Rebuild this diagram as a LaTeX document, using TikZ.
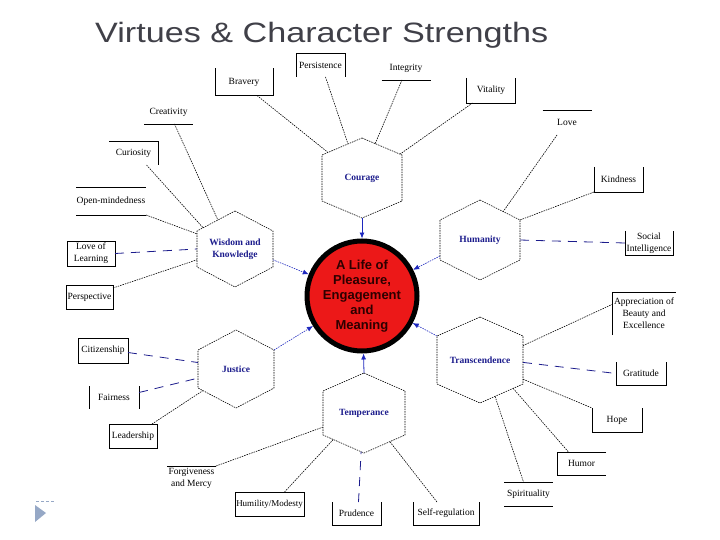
\documentclass[tikz,border=0pt]{standalone}
\usepackage{fontspec}
\setmainfont{Liberation Serif}
\newfontfamily\headfont{Liberation Sans}
\usetikzlibrary{arrows.meta, calc}
\definecolor{virtueblue}{RGB}{28, 28, 140}
\definecolor{feedblue}{RGB}{30, 40, 190}
\definecolor{lifered}{RGB}{236, 24, 24}
\definecolor{lifetext}{RGB}{45, 0, 0}
\definecolor{titlegray}{RGB}{64, 64, 72}
\definecolor{slidegray}{RGB}{150, 168, 198}

\tikzset{
  strength/.style={font=\fontsize{9.5}{12}\selectfont, align=center, inner sep=0pt, outer sep=0pt, minimum width=49pt, minimum height=24pt},
  framed/.style={strength, draw, line width=0.8pt},
  side/.style={line width=0.8pt},
  virtue/.style={inner sep=0pt, outer sep=0pt, align=center, text=virtueblue, font=\fontsize{9.5}{12}\selectfont\bfseries},
  hexline/.style={line width=0.6pt, dash pattern=on 1.5pt off 1pt},
  link/.style={line width=0.6pt, dash pattern=on 1.5pt off 1pt},
  bluelink/.style={line width=0.8pt, virtueblue, dash pattern=on 9pt off 7pt},
  feed/.style={feedblue, line width=0.6pt, dash pattern=on 1.5pt off 1pt, -{Latex[length=6pt, width=5pt]}},
  feedsolid/.style={feedblue, line width=0.8pt, -{Latex[length=6pt, width=5pt]}},
}

% hexagon round a virtue node: name, slant
\newcommand{\hexframe}[2]{%
  \coordinate (#1-n) at (#1.north);
  \coordinate (#1-ne) at ([yshift=-#2pt]#1.north east);
  \coordinate (#1-se) at ([yshift=#2pt]#1.south east);
  \coordinate (#1-s) at (#1.south);
  \coordinate (#1-sw) at ([yshift=#2pt]#1.south west);
  \coordinate (#1-nw) at ([yshift=-#2pt]#1.north west);
  \draw[hexline] (#1-n) -- (#1-ne) -- (#1-se) -- (#1-s) -- (#1-sw) -- (#1-nw) -- cycle;}

\begin{document}
\begin{tikzpicture}[x=1pt, y=-1pt]
  \useasboundingbox (0,0) rectangle (720,540);

  % title
  \node[anchor=base west, inner sep=0pt, text=titlegray, font=\headfont\fontsize{28}{30}\selectfont] (title) at (95,43) {\scalebox{1.22}[1]{Virtues \& Character Strengths}};

  % centre
  \node[circle, draw=black, line width=5pt, fill=lifered, minimum size=110pt, inner sep=0pt, align=center, text=lifetext, font=\headfont\bfseries\fontsize{13}{15}\selectfont] (life) at (362,296) {A Life of\\Pleasure,\\Engagement\\and\\Meaning};

  % virtues
  \node[virtue, minimum width=80pt, minimum height=80pt] (courage) at (362,178) {Courage};
  \node[virtue, minimum width=76pt, minimum height=76pt] (wisdom) at (235,249) {Wisdom and\\Knowledge};
  \node[virtue, minimum width=80pt, minimum height=80pt] (humanity) at (480,240) {Humanity};
  \node[virtue, minimum width=76pt, minimum height=78pt] (justice) at (236,369) {Justice};
  \node[virtue, minimum width=86pt, minimum height=86pt] (transcendence) at (480,360) {Transcendence};
  \node[virtue, minimum width=82pt, minimum height=80pt] (temperance) at (364,413) {Temperance};
  \hexframe{courage}{17}
  \hexframe{wisdom}{20}
  \hexframe{humanity}{20}
  \hexframe{justice}{20}
  \hexframe{transcendence}{19}
  \hexframe{temperance}{18}

  % strengths
  \node[strength, minimum width=58pt, minimum height=27pt] (bravery) at (244,82) {Bravery};
  \node[strength] (persistence) at (320.5,65) {Persistence};
  \node[strength] (integrity) at (406,68) {Integrity};
  \node[strength, minimum height=25pt] (vitality) at (491,90.5) {Vitality};
  \node[strength] (creativity) at (168.5,112) {Creativity};
  \node[strength] (curiosity) at (133.5,153) {Curiosity};
  \node[strength, minimum width=70pt, minimum height=28pt] (openmind) at (111,201) {Open-mindedness};
  \node[framed, minimum width=48pt, minimum height=25pt] (learning) at (91,253.5) {Love of\\Learning};
  \node[framed, minimum width=47pt] (perspective) at (89.5,297) {Perspective};
  \node[strength, minimum height=25pt] (love) at (567,122.5) {Love};
  \node[strength, minimum height=25pt] (kindness) at (618.5,179.5) {Kindness};
  \node[strength, minimum width=48pt] (social) at (649,243) {Social\\Intelligence};
  \node[strength, minimum width=64pt, minimum height=43pt] (beauty) at (644,313.5) {Appreciation of\\Beauty and\\Excellence};
  \node[framed, minimum width=50pt, minimum height=25pt] (citizenship) at (103,350.5) {Citizenship};
  \node[strength, minimum width=50pt, minimum height=23pt] (fairness) at (114,397.5) {Fairness};
  \node[framed, minimum width=48pt] (leadership) at (133,436) {Leadership};
  \node[strength, minimum width=50pt, minimum height=23pt] (gratitude) at (641,373.5) {Gratitude};
  \node[strength, minimum width=50pt] (hope) at (617,420) {Hope};
  \node[strength, minimum height=23pt] (humor) at (581.5,463.5) {Humor};
  \node[strength] (spirituality) at (528.5,494) {Spirituality};
  \node[strength] (forgiveness) at (191.5,478) {Forgiveness\\and Mercy};
  \node[framed, minimum width=69pt, font=\fontsize{9}{12}\selectfont] (humility) at (269.5,504) {Humility/Modesty};
  \node[strength, minimum height=23pt] (prudence) at (356.5,513.5) {Prudence};
  \node[strength, minimum width=66pt, minimum height=23pt] (selfreg) at (446,513.5) {Self-regulation};

  % open box sides
  \draw[side] (bravery.north west) -- (bravery.south west) -- (bravery.south east) -- (bravery.north east);
  \draw[side] (persistence.south west) -- (persistence.north west) -- (persistence.north east) -- (persistence.south east);
  \draw[side] (integrity.south west) -- (integrity.south east);
  \draw[side] (vitality.north west) -- (vitality.south west) -- (vitality.south east) -- (vitality.north east);
  \draw[side] (creativity.south west) -- (creativity.south east);
  \draw[side] (curiosity.north west) -- (curiosity.north east) -- (curiosity.south east);
  \draw[side] (openmind.north west) -- (openmind.north east) (openmind.south west) -- (openmind.south east);
  \draw[side] (love.north west) -- (love.north east);
  \draw[side] (kindness.north west) -- (kindness.south west) -- (kindness.south east) -- (kindness.north east);
  \draw[side] (social.north west) -- (social.south west) -- (social.south east) -- (social.north east);
  \draw[side] (beauty.south west) -- (beauty.north west) -- (beauty.north east);
  \draw[side] (fairness.north west) -- (fairness.south west) (fairness.north east) -- (fairness.south east);
  \draw[side] (gratitude.north west) -- (gratitude.south west) -- (gratitude.south east) -- (gratitude.north east);
  \draw[side] (hope.north west) -- (hope.south west) -- (hope.south east) -- (hope.north east);
  \draw[side] (humor.north east) -- (humor.north west) -- (humor.south west) -- (humor.south east);
  \draw[side] (spirituality.north west) -- (spirituality.north east) (spirituality.south west) -- (spirituality.south east);
  \draw[side] (forgiveness.north west) -- (forgiveness.north east);
  \draw[side] (prudence.north west) -- (prudence.south west) -- (prudence.south east) -- (prudence.north east);
  \draw[side] (selfreg.north west) -- (selfreg.south west) -- (selfreg.south east) -- (selfreg.north east);

  % virtues into the centre
  \draw[feedsolid] (courage-s) -- (life);
  \draw[feedsolid] (temperance-n) -- (life);
  \draw[feed] ($(wisdom-ne)!0.8!(wisdom-se)$) -- (life);
  \draw[feed] ($(humanity-nw)!0.9!(humanity-sw)$) -- (life);
  \draw[feed] (transcendence-nw) -- (life);
  \draw[feed] (justice-ne) -- (life);

  % courage
  \draw[link] ([xshift=13pt]bravery.south) -- ($(courage-nw)!0.15!(courage-n)$);
  \draw[link] ([xshift=5pt]persistence.south) -- ($(courage-nw)!0.65!(courage-n)$);
  \draw[link] ([xshift=-4pt]integrity.south) -- ($(courage-n)!0.33!(courage-ne)$);
  \draw[link] ([xshift=6pt]vitality.south west) -- ($(courage-n)!0.95!(courage-ne)$);
  % wisdom
  \draw[link] ([xshift=6pt]creativity.south) -- ($(wisdom-nw)!0.55!(wisdom-n)$);
  \draw[link] ([xshift=13pt]curiosity.south) -- ($(wisdom-nw)!0.16!(wisdom-n)$);
  \draw[link] (openmind.south east) -- ($(wisdom-nw)!0.08!(wisdom-sw)$);
  \draw[bluelink] (learning.east) -- ($(wisdom-nw)!0.5!(wisdom-sw)$);
  \draw[link] ([yshift=9pt]perspective.east) -- ($(wisdom-nw)!0.8!(wisdom-sw)$);
  % humanity
  \draw[link] ([xshift=-10pt]love.south) -- ($(humanity-n)!0.58!(humanity-ne)$);
  \draw[link] (kindness.south west) -- (humanity-ne);
  \draw[bluelink] ($(humanity-ne)!0.5!(humanity-se)$) -- (social.west);
  % transcendence
  \draw[link] ($(transcendence-ne)!0.2!(transcendence-se)$) -- ([yshift=9pt]beauty.west);
  \draw[bluelink] ($(transcendence-ne)!0.55!(transcendence-se)$) -- (gratitude.west);
  \draw[link] ($(transcendence-ne)!0.9!(transcendence-se)$) -- (hope.north west);
  \draw[link] ($(transcendence-se)!0.23!(transcendence-s)$) -- ([xshift=-13pt]humor.north);
  \draw[link] ($(transcendence-se)!0.65!(transcendence-s)$) -- ([xshift=-5pt]spirituality.north);
  % justice
  \draw[bluelink] ([yshift=-2pt]citizenship.east) -- ($(justice-nw)!0.33!(justice-sw)$);
  \draw[bluelink] ([yshift=5pt]fairness.east) -- ($(justice-nw)!0.74!(justice-sw)$);
  \draw[link] ([xshift=19pt]leadership.north) -- ($(justice-sw)!0.13!(justice-s)$);
  % temperance
  \draw[link] (forgiveness.north east) -- ($(temperance-nw)!0.82!(temperance-sw)$);
  \draw[link] ([xshift=15pt]humility.north) -- ($(temperance-sw)!0.25!(temperance-s)$);
  \draw[bluelink] ([xshift=2pt]prudence.north) -- ($(temperance-sw)!0.93!(temperance-s)$);
  \draw[link] ([xshift=-9pt]selfreg.north) -- ($(temperance-s)!0.63!(temperance-se)$);

  % slide marker
  \draw[slidegray, line width=0.8pt, dash pattern=on 3pt off 2pt] (36,501) -- (54,501);
  \fill[slidegray] (35,505) -- (46,513) -- (35,522) -- cycle;
\end{tikzpicture}
\end{document}
